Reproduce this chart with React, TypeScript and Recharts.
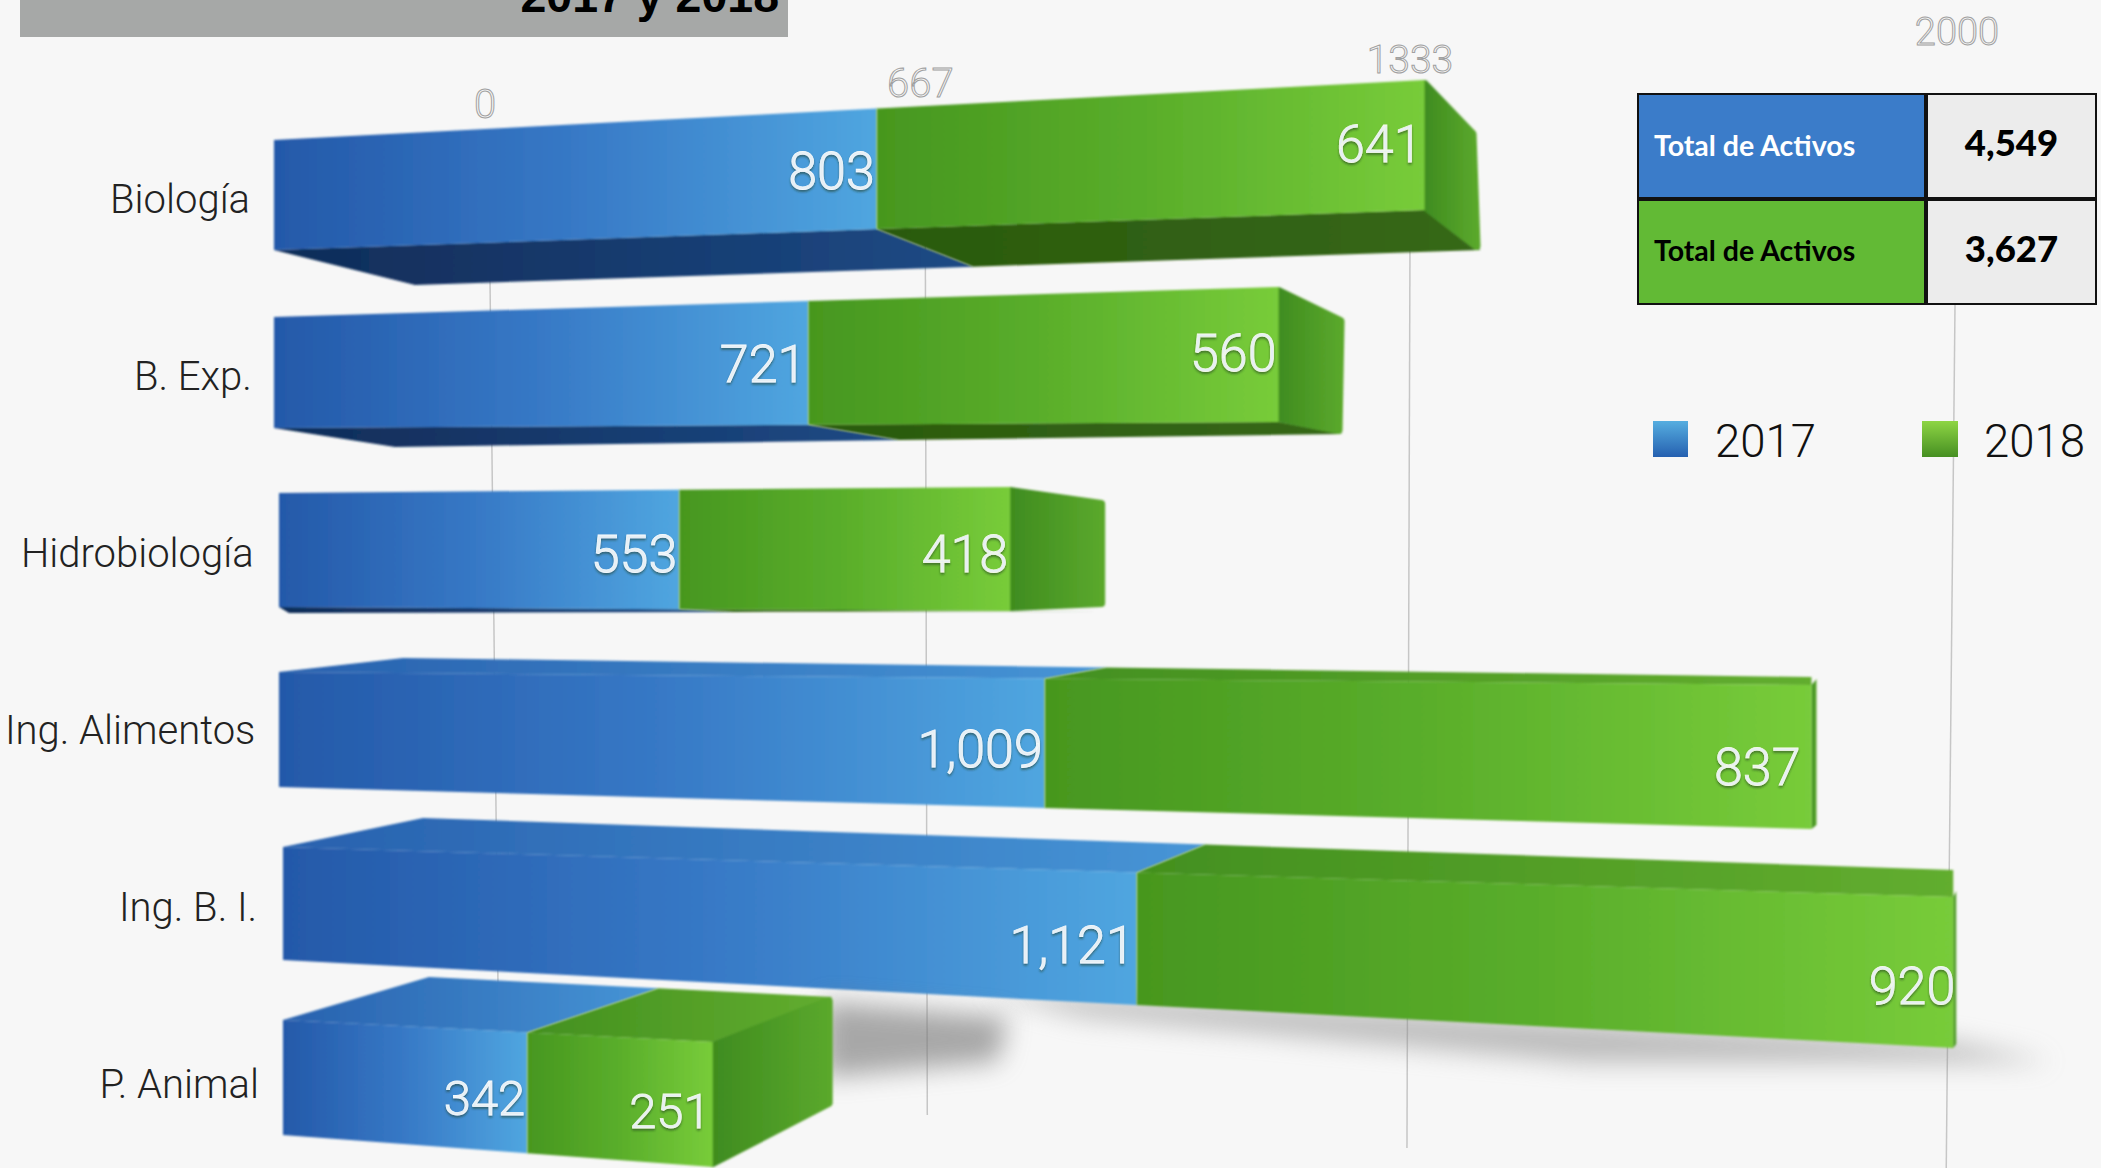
import React from "react";
import { BarChart, Bar, XAxis, YAxis, CartesianGrid, LabelList, Legend } from "recharts";

const categories = ["Biología", "B. Exp.", "Hidrobiología", "Ing. Alimentos", "Ing. B. I.", "P. Animal"];
const values2017 = [803, 721, 553, 1009, 1121, 342];
const values2018 = [641, 560, 418, 837, 920, 251];
const axisTicks = [0, 667, 1333, 2000];
const tableRows = [
  { label: "Total de Activos", value: "4,549", fill: "#3b7cc9", color: "#ffffff" },
  { label: "Total de Activos", value: "3,627", fill: "#62ba35", color: "#000000" },
];
const titleText = "2017 y 2018";

const data = categories.map((name, i) => ({ name, y2017: values2017[i], y2018: values2018[i] }));

const BAR_MAX = 2100;
const BAR_EXP = 1.1;
const PLOT_LEFT = 279;
const warp = (v: number) => Math.pow(v / BAR_MAX, BAR_EXP);

// perspective scale, d3-like, used by the axis so bars shrink with distance
function perspectiveScale(exp: number, d0: number[] = [0, 1], r0: number[] = [0, 1]): any {
  let dom = d0;
  let rng = r0;
  const s: any = (v: number) => {
    const f = Math.max(0, (v - dom[0]) / (dom[1] - dom[0]));
    return rng[0] + (rng[1] - rng[0]) * Math.pow(f, exp);
  };
  s.domain = (d?: number[]) => {
    if (d === undefined) return dom;
    dom = d.map(Number);
    return s;
  };
  s.range = (r?: number[]) => {
    if (r === undefined) return rng;
    rng = r.map(Number);
    return s;
  };
  s.copy = () => perspectiveScale(exp, dom, rng);
  s.ticks = () => axisTicks;
  s.tickFormat = () => (v: number) => String(v);
  s.nice = () => s;
  s.clamp = () => s;
  s.invert = (px: number) => dom[0] + (dom[1] - dom[0]) * Math.pow((px - rng[0]) / (rng[1] - rng[0]), 1 / exp);
  return s;
}

// 3D pose of each bar, relative to the band centre: front face top/bottom at bar start & end, depth vectors
type Pose = {
  shift: number; g17: number; g: number; ts: number; te: number; bs: number; be: number;
  low?: number[]; top?: number[]; capT?: number[]; capB?: number[]; font: number;
  dy17: number; dy18: number; dx18: number;
};
const poses: Pose[] = [
  { shift: -5, g17: 1.019, g: 1.02, ts: -58.5, te: -118.5, bs: 51.5, be: 11.5, low: [141, 35, 56, 40], capT: [52, 50], capB: [56, 40], font: 52, dy17: 0, dy18: -4, dx18: 0 },
  { shift: -5, g17: 1.017, g: 1.016, ts: -58.5, te: -88.5, bs: 52.5, be: 46.5, low: [121, 19, 64, 12], capT: [66, 30], capB: [64, 12], font: 52, dy17: -1, dy18: -4, dx18: 0 },
  { shift: 0, g17: 1.02, g: 1.003, ts: -59.5, te: -65.5, bs: 54.5, be: 58.5, low: [10, 6, 92, 0], capT: [95, 13], capB: [95, -4], font: 52, dy17: 2, dy18: 2, dx18: 0 },
  { shift: 0, g17: 1.007, g: 1.037, ts: -57.5, te: -44.5, bs: 57.5, be: 99.5, top: [124, -14, 0, -8], capT: [5, -6], capB: [5, -4], font: 52, dy17: 3, dy18: 7, dx18: -9 },
  { shift: 4, g17: 1.0, g: 1.012, ts: -59.5, te: -9.5, bs: 53.5, be: 141.5, top: [140, -29, 0, -27], capT: [3, -6], capB: [3, -4], font: 52, dy17: 4, dy18: 11, dx18: 4 },
  { shift: 4, g17: 1.056, g: 1.014, ts: -63.5, te: -41.5, bs: 51.5, be: 83.5, top: [146, -43, 120, -45], capT: [120, -45], capB: [120, -60], font: 49, dy17: 3, dy18: 4, dx18: 0 },
];
// gridline layout: nudge from the scale position, label centre y, line top/bottom y, and lean
const gridStyle = [
  { labelDx: 206, labelY: 104, font: 40, dx: 211, y1: 280, y2: 985, lean: 8 },
  { labelDx: 159, labelY: 83, font: 40, dx: 164, y1: 230, y2: 1115, lean: 2 },
  { labelDx: 98, labelY: 60, font: 39, dx: 98, y1: 250, y2: 1148, lean: -3 },
  { labelDx: 64, labelY: 32, font: 38, dx: 62, y1: 305, y2: 1190, lean: -9 },
];

const LIGHT = "Roboto, 'Liberation Sans', sans-serif";
const pts = (a: number[][]) => a.map((p) => p.join(",")).join(" ");
const lerp = (a: number, b: number, t: number) => a + (b - a) * t;
const splitT = (i: number) =>
  (warp(values2017[i]) * poses[i].g17) / (warp(values2017[i] + values2018[i]) * poses[i].g);

function Seg(props: any) {
  const { x, y, width, height, index, series } = props;
  const pose = poses[index];
  const first = series === "2017";
  const t0 = first ? 0 : splitT(index);
  const t1 = first ? splitT(index) : 1;
  const cy = y + height / 2;
  const start = PLOT_LEFT + pose.shift;
  const xa = first ? start : start + (x - PLOT_LEFT) * pose.g17;
  const xb = first ? start + width * pose.g17 : start + (x + width - PLOT_LEFT) * pose.g;
  const yT = (t: number) => cy + lerp(pose.ts, pose.te, t);
  const yB = (t: number) => cy + lerp(pose.bs, pose.be, t);
  const depthQuad = (d: number[], edge: (t: number) => number) => [
    [xa, edge(t0)],
    [xb, edge(t1)],
    [xb + lerp(d[0], d[2], t1), edge(t1) + lerp(d[1], d[3], t1)],
    [xa + lerp(d[0], d[2], t0), edge(t0) + lerp(d[1], d[3], t0)],
  ];
  const name = first ? "blue" : "green";
  const edgeAt = (o: number) => yB(o / 1669);
  const round = pose.capT && Math.abs(pose.capT[0]) > 20 ? 4 : 0;
  return (
    <g>
      {first && index === 4 && (
        <polygon
          points={pts([
            [start + 700, edgeAt(700) - 6],
            [start + 1669, edgeAt(1669) - 6],
            [start + 1770, edgeAt(1669) + 14],
            [start + 1300, edgeAt(1300) + 34],
            [start + 800, edgeAt(800) + 14],
          ])}
          fill="#8a8a8a"
          opacity={0.55}
          filter="url(#shadowBlur)"
        />
      )}
      {first && index === 5 && (
        <polygon
          points={pts([
            [start + 540, cy - 82],
            [start + 725, cy - 66],
            [start + 715, cy - 22],
            [start + 540, cy - 6],
          ])}
          fill="#777777"
          opacity={0.62}
          filter="url(#shadowBlur)"
        />
      )}
      <g filter="url(#soft)">
        {pose.top && <polygon points={pts(depthQuad(pose.top, yT))} fill={`url(#${name}Top)`} />}
        {pose.low && <polygon points={pts(depthQuad(pose.low, yB))} fill={`url(#${name}Low)`} />}
        {!first && pose.capT && pose.capB && (
          <polygon
            points={pts([
              [xb, yT(1) + round],
              [xb + pose.capT[0] - round, yT(1) + pose.capT[1] + round],
              [xb + pose.capB[0] - round, yB(1) + pose.capB[1] - round],
              [xb, yB(1) - round],
            ])}
            fill="url(#greenCap)"
            stroke="url(#greenCap)"
            strokeWidth={round * 2}
            strokeLinejoin="round"
          />
        )}
        <polygon
          points={pts([
            [xa, yT(t0)],
            [xb, yT(t1)],
            [xb, yB(t1)],
            [xa, yB(t0)],
          ])}
          fill={`url(#${name}Front)`}
        />
      </g>
    </g>
  );
}

function ValueLabel(props: any) {
  const { index, value, series } = props;
  const box = props.viewBox && props.viewBox.width !== undefined ? props.viewBox : props;
  const pose = poses[index];
  const first = series === "2017";
  const t = first ? splitT(index) : 1;
  const cy = box.y + box.height / 2;
  const mid = cy + (lerp(pose.ts, pose.te, t) + lerp(pose.bs, pose.be, t)) / 2;
  const start = PLOT_LEFT + pose.shift;
  const right = first ? start + box.width * pose.g17 : start + (box.x + box.width - PLOT_LEFT) * pose.g + pose.dx18;
  return (
    <text
      x={right - 2}
      y={mid + 3 + (first ? pose.dy17 : pose.dy18)}
      textAnchor="end"
      dominantBaseline="central"
      fontFamily={LIGHT}
      fontWeight={300}
      fontSize={pose.font}
      fill="#e6eff5"
      stroke={first ? "#f4f9fc" : "#f2f9e8"}
      strokeWidth={0.8}
      filter="url(#textShadow)"
    >
      {Number(value).toLocaleString("en-US")}
    </text>
  );
}

function GridLine(props: any) {
  const { x1, index } = props;
  const g = gridStyle[index];
  if (!g) return null;
  return <line x1={x1 + g.dx} x2={x1 + g.dx + g.lean} y1={g.y1} y2={g.y2} stroke="#c6c6c6" strokeWidth={1.5} />;
}

function AxisTick(props: any) {
  const { x, index, payload } = props;
  const g = gridStyle[index];
  if (!g) return null;
  return (
    <text
      x={x + g.labelDx}
      y={g.labelY}
      textAnchor="middle"
      dominantBaseline="central"
      fontFamily={LIGHT}
      fontWeight={300}
      fontSize={g.font}
      fill="#f7f7f7"
      stroke="#a0a0a0"
      strokeWidth={1}
    >
      {payload.value}
    </text>
  );
}

function CategoryTick(props: any) {
  const { x, y, index, payload } = props;
  return (
    <text
      x={x - 21 + index * 1.8}
      y={y + 1}
      textAnchor="end"
      dominantBaseline="central"
      fontFamily={LIGHT}
      fontWeight={300}
      fontSize={40}
      fill="#222222"
    >
      {payload.value}
    </text>
  );
}

function LegendContent() {
  const items = [
    { year: "2017", left: 1653, w: 35, from: "#56aee0", to: "#2560b0", textLeft: 1715 },
    { year: "2018", left: 1922, w: 36, from: "#8ed544", to: "#468f22", textLeft: 1984 },
  ];
  return (
    <div style={{ position: "relative", width: 2101, height: 60 }}>
      {items.map((it) => (
        <React.Fragment key={it.year}>
          <div
            style={{
              position: "absolute",
              left: it.left,
              top: 0,
              width: it.w,
              height: 36,
              background: `linear-gradient(${it.from}, ${it.to})`,
            }}
          />
          <div
            style={{
              position: "absolute",
              left: it.textLeft,
              top: -7,
              fontFamily: LIGHT,
              fontWeight: 300,
              fontSize: 45.5,
              lineHeight: "56px",
              color: "#111",
            }}
          >
            {it.year}
          </div>
        </React.Fragment>
      ))}
    </div>
  );
}

function TotalsTable() {
  const bw = 2;
  return (
    <div style={{ position: "absolute", left: 1637, top: 93, width: 460, height: 212, zIndex: 2 }}>
      {tableRows.map((r, i) => (
        <React.Fragment key={i}>
          <div
            style={{
              position: "absolute",
              left: 0,
              top: i * 106,
              width: 289,
              height: 106,
              boxSizing: "border-box",
              border: `${bw}px solid #111`,
              background: r.fill,
              color: r.color,
              fontFamily: "Lato, sans-serif",
              fontWeight: 700,
              fontSize: 28.5,
              lineHeight: i === 0 ? "100px" : "98px",
              paddingLeft: 15,
            }}
          >
            {r.label}
          </div>
          <div
            style={{
              position: "absolute",
              left: 289,
              top: i * 106,
              width: 171,
              height: 106,
              boxSizing: "border-box",
              border: `${bw}px solid #111`,
              background: "#ececec",
              color: "#000",
              fontFamily: "Lato, sans-serif",
              fontWeight: 900,
              fontSize: 36.5,
              lineHeight: "94px",
              textAlign: "center",
            }}
          >
            {r.value}
          </div>
        </React.Fragment>
      ))}
    </div>
  );
}

function Grad({ id, stops, vertical }: { id: string; stops: string[]; vertical?: boolean }) {
  return (
    <linearGradient id={id} x1="0" y1="0" x2={vertical ? "0" : "1"} y2={vertical ? "1" : "0"}>
      {stops.map((c, i) => (
        <stop key={i} offset={i / (stops.length - 1)} stopColor={c} />
      ))}
    </linearGradient>
  );
}

export default function App() {
  return (
    <div
      style={{
        position: "fixed",
        left: 0,
        top: 0,
        width: 2101,
        height: 1168,
        overflow: "hidden",
        background: "#f7f7f7",
      }}
    >
      <div
        style={{
          position: "absolute",
          left: 20,
          top: 0,
          width: 768,
          height: 37,
          overflow: "hidden",
          background: "#a6a8a7",
        }}
      >
        <div
          style={{
            position: "absolute",
            right: 9,
            top: -27,
            fontFamily: "'Liberation Sans', sans-serif",
            fontWeight: 700,
            fontSize: 46.5,
            lineHeight: "46px",
            color: "#000",
            whiteSpace: "nowrap",
          }}
        >
          {titleText}
        </div>
      </div>
      <BarChart
        width={2101}
        height={1180}
        data={data}
        layout="vertical"
        barCategoryGap={30}
        margin={{ top: 0, right: 119, bottom: 8, left: 0 }}
      >
        <defs>
          <Grad id="blueFront" stops={["#2459a9", "#3779c6", "#50a6e0"]} />
          <Grad id="greenFront" stops={["#47971f", "#5aae2b", "#78cc3a"]} />
          <Grad id="blueTop" stops={["#2861ae", "#4795d6"]} />
          <Grad id="greenTop" stops={["#43901f", "#62ad2f"]} />
          <Grad id="blueLow" stops={["#102c58", "#1d4a85"]} />
          <Grad id="greenLow" stops={["#2a5a0c", "#37681a"]} />
          <Grad id="greenCap" stops={["#3f8c1f", "#5aa82c"]} />
          <filter id="soft" x="-5%" y="-20%" width="110%" height="140%">
            <feGaussianBlur stdDeviation="1.1" />
          </filter>
          <filter id="shadowBlur" x="-30%" y="-150%" width="160%" height="400%">
            <feGaussianBlur stdDeviation="13" />
          </filter>
          <filter id="textShadow" x="-10%" y="-20%" width="120%" height="150%">
            <feDropShadow dx="0" dy="2" stdDeviation="1" floodColor="#1c3a22" floodOpacity="0.55" />
          </filter>
        </defs>
        <CartesianGrid xAxisId="bars" horizontal={false} vertical={(p: any) => <GridLine key={p.index} {...p} />} />
        <XAxis
          xAxisId="bars"
          type="number"
          orientation="top"
          height={110}
          domain={[0, BAR_MAX]}
          ticks={axisTicks}
          interval={0}
          scale={perspectiveScale(BAR_EXP)}
          axisLine={false}
          tickLine={false}
          tick={(p: any) => <AxisTick {...p} />}
        />
        <YAxis
          type="category"
          dataKey="name"
          width={279}
          interval={0}
          axisLine={false}
          tickLine={false}
          tick={(p: any) => <CategoryTick {...p} />}
        />
        <Legend
          layout="horizontal"
          verticalAlign="middle"
          align="center"
          content={() => <LegendContent />}
          wrapperStyle={{ left: 0, top: 421, width: 2101, height: 60 }}
        />
        <Bar
          xAxisId="bars"
          dataKey="y2017"
          name="2017"
          stackId="a"
          fill="#3b7cc9"
          isAnimationActive={false}
          shape={(p: any) => <Seg {...p} series="2017" />}
        >
          <LabelList dataKey="y2017" content={(p: any) => <ValueLabel {...p} series="2017" />} />
        </Bar>
        <Bar
          xAxisId="bars"
          dataKey="y2018"
          name="2018"
          stackId="a"
          fill="#62ba35"
          isAnimationActive={false}
          shape={(p: any) => <Seg {...p} series="2018" />}
        >
          <LabelList dataKey="y2018" content={(p: any) => <ValueLabel {...p} series="2018" />} />
        </Bar>
      </BarChart>
      <TotalsTable />
    </div>
  );
}
